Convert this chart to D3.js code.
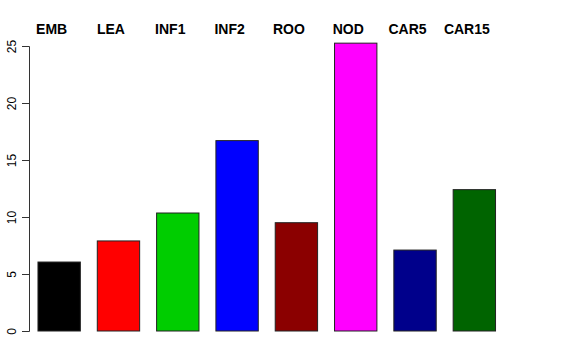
<!DOCTYPE html>
<html>
<head>
<meta charset="utf-8">
<script src="https://cdnjs.cloudflare.com/ajax/libs/d3/7.8.5/d3.min.js"></script>
<style>
  body { margin: 0; background: #fff; }
  svg { display: block; font-family: "Liberation Sans", Arial, sans-serif; }
</style>
</head>
<body>
<svg></svg>
<script>
const categories = ['EMB', 'LEA', 'INF1', 'INF2', 'ROO', 'NOD', 'CAR5', 'CAR15'];
const values = [6.05, 7.9, 10.35, 16.7, 9.5, 25.25, 7.1, 12.4];
const colors = ['#000000', '#ff0000', '#00cd00', '#0000ff', '#8b0000', '#ff00ff', '#00008b', '#006400'];
const yTicks = [0, 5, 10, 15, 20, 25];

const width = 576;
const height = 360;

const svg = d3.select('svg')
    .attr('width', width)
    .attr('height', height);

const xScale = d3.scaleBand()
    .domain(categories)
    .range([29.5, 504])
    .paddingInner(0.4 / 1.4)
    .paddingOuter(0.2 / 1.4);

const yScale = d3.scaleLinear()
    .domain([0, 25])
    .range([331, 46]);

// bars
svg.selectAll('rect.bar')
    .data(values)
    .enter()
    .append('rect')
    .attr('class', 'bar')
    .attr('x', (d, i) => xScale(categories[i]))
    .attr('y', d => yScale(d))
    .attr('width', xScale.bandwidth())
    .attr('height', d => yScale(0) - yScale(d))
    .attr('fill', (d, i) => colors[i])
    .attr('stroke', '#222')
    .attr('stroke-width', 1);

// labels on top
svg.selectAll('text.cat')
    .data(categories)
    .enter()
    .append('text')
    .attr('class', 'cat')
    .attr('x', d => xScale(d) + xScale.bandwidth() / 2 - 7.5)
    .attr('y', 34)
    .attr('text-anchor', 'middle')
    .attr('font-weight', 'bold')
    .attr('font-size', 14)
    .text(d => d);

// y axis
const yAxis = d3.axisLeft(yScale)
    .tickValues(yTicks)
    .tickSize(7)
    .tickPadding(5);

const gy = svg.append('g')
    .attr('transform', 'translate(29, 0)')
    .call(yAxis);

gy.select('.domain').attr('stroke', '#333');
gy.selectAll('.tick line').attr('stroke', '#333');
gy.selectAll('.tick text')
    .attr('font-family', '"Liberation Sans", Arial, sans-serif')
    .attr('font-size', 12)
    .attr('fill', '#000')
    .attr('text-anchor', 'middle')
    .attr('x', 0)
    .attr('y', 0)
    .attr('dy', '0.35em')
    .attr('transform', 'translate(-17, 0) rotate(-90)');
</script>
</body>
</html>
